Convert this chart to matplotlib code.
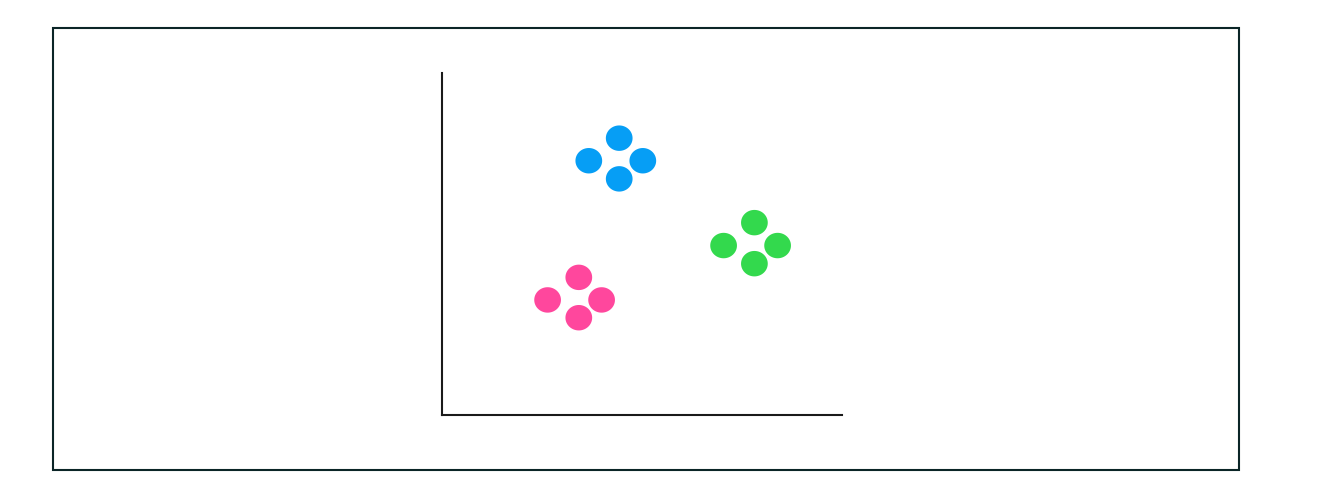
import matplotlib
matplotlib.use("Agg")
import matplotlib.pyplot as plt
from matplotlib.path import Path
from matplotlib.patches import Rectangle
import numpy as np

# Data
groups = ["blue", "green", "pink"]
blue_x = [4.43, 3.67, 5.02, 4.43]
blue_y = [8.08, 7.42, 7.42, 6.89]
green_x = [7.81, 7.04, 8.39, 7.81]
green_y = [5.61, 4.94, 4.94, 4.41]
pink_x = [3.42, 2.64, 3.99, 3.42]
pink_y = [4.01, 3.35, 3.35, 2.83]
colors = ["#069ef5", "#33d94d", "#ff479d"]

fig = plt.figure(figsize=(13.21, 4.85), dpi=100)
W, H = 1321, 485
dy = 1.5

# outer frame
fig.patches.append(Rectangle((53 / W, (H - 469 - dy) / H), (1239 - 53) / W, (469 - 27) / H,
                             transform=fig.transFigure, fill=False,
                             edgecolor="#0b2527", linewidth=1.5, zorder=0))

ax = fig.add_axes([442 / W, (H - 414 - dy) / H, 400 / W, 342 / H])
ax.set_xlim(0, 10)
ax.set_ylim(0, 10)
for s in ["top", "right"]:
    ax.spines[s].set_visible(False)
for s in ["left", "bottom"]:
    ax.spines[s].set_color("#1a1a1a")
    ax.spines[s].set_linewidth(1.5)
ax.set_xticks([])
ax.set_yticks([])
ax.patch.set_alpha(0)

t = np.linspace(0, 2 * np.pi, 100)
ell = Path(np.column_stack([1.05 * np.cos(t), np.sin(t)]))

for xs, ys, c in zip([blue_x, green_x, pink_x], [blue_y, green_y, pink_y], colors):
    ax.scatter(xs, ys, s=370, marker=ell, color=c, edgecolors="none", clip_on=False)

fig.savefig("out.png", dpi=100)
